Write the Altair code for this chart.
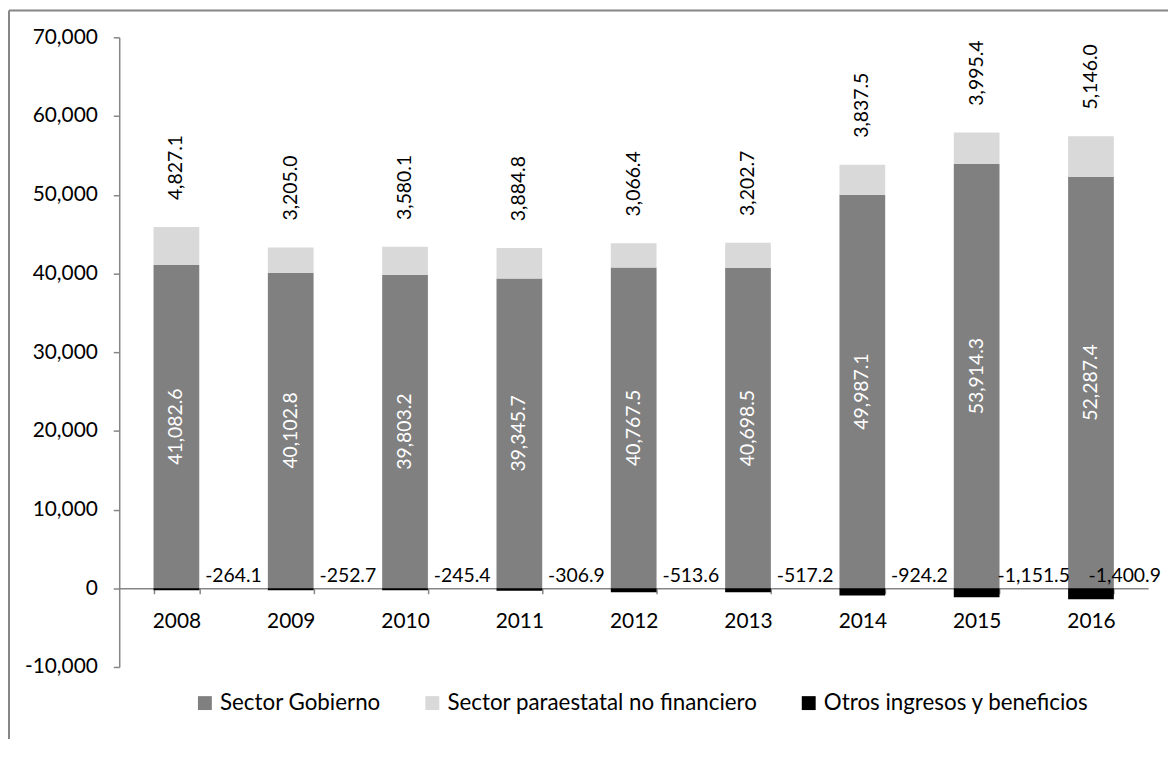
import altair as alt
import pandas as pd

years = ["2008", "2009", "2010", "2011", "2012", "2013", "2014", "2015", "2016"]
gobierno = [41082.6, 40102.8, 39803.2, 39345.7, 40767.5, 40698.5, 49987.1, 53914.3, 52287.4]
paraestatal = [4827.1, 3205.0, 3580.1, 3884.8, 3066.4, 3202.7, 3837.5, 3995.4, 5146.0]
otros = [-264.1, -252.7, -245.4, -306.9, -513.6, -517.2, -924.2, -1151.5, -1400.9]
series_names = ["Sector Gobierno", "Sector paraestatal no financiero", "Otros ingresos y beneficios"]
colors = ["#808080", "#d9d9d9", "#000000"]
y_ticks = [-10000, 0, 10000, 20000, 30000, 40000, 50000, 60000, 70000]

FONT = "Lato"
AXIS_COLOR = "#868686"

rows = []
for i, yr in enumerate(years):
    for k, vals in enumerate([gobierno, paraestatal, otros]):
        rows.append({"year": yr, "serie": series_names[k], "value": vals[i], "ord": k})
long_df = pd.DataFrame(rows)


def fmt(v):
    return f"{v:,.1f}"


wide = pd.DataFrame({
    "year": years,
    "gob": gobierno,
    "para": paraestatal,
    "otros": otros,
})
wide["total"] = wide["gob"] + wide["para"]
wide["mid"] = wide["gob"] / 2
wide["zero"] = 0.0
wide["gob_lbl"] = [fmt(v) for v in gobierno]
wide["para_lbl"] = [fmt(v) for v in paraestatal]
wide["otros_lbl"] = [fmt(v) for v in otros]

x_enc = alt.X(
    "year:N",
    sort=years,
    scale=alt.Scale(paddingInner=0.6, paddingOuter=0.3),
    axis=alt.Axis(
        title=None, labelAngle=0, labelFont=FONT, labelFontSize=21, labelColor="black",
        domainColor=AXIS_COLOR, domainWidth=1.5, tickColor=AXIS_COLOR, tickWidth=1.5,
        tickSize=5.5, tickBand="extent", labelPadding=17, offset=-79.25,
    ),
)

y_scale = alt.Scale(domain=[-10000, 70000], nice=False, zero=False)

bars = alt.Chart(long_df).mark_bar().encode(
    x=x_enc,
    y=alt.Y(
        "value:Q",
        stack="zero",
        scale=y_scale,
        axis=alt.Axis(
            title=None, values=y_ticks, grid=False,
            labelExpr="datum.value < 0 ? '-' + format(-datum.value, ',') : format(datum.value, ',')",
            labelFont=FONT, labelFontSize=21, labelColor="black",
            domainColor=AXIS_COLOR, domainWidth=1.5, tickColor=AXIS_COLOR, tickWidth=1.5,
            tickSize=6, labelPadding=16,
        ),
    ),
    color=alt.Color(
        "serie:N",
        scale=alt.Scale(domain=series_names, range=colors),
        legend=alt.Legend(
            orient="none", legendX=75, legendY=659, direction="horizontal", title=None,
            symbolType="square", symbolSize=196, symbolStrokeWidth=0,
            labelFont=FONT, labelFontSize=22.5, labelColor="black",
            columnPadding=40, labelOffset=4, padding=0, labelLimit=600,
        ),
    ),
    order=alt.Order("ord:Q"),
)

base = alt.Chart(wide)

gob_text = base.mark_text(
    angle=270, color="white", font=FONT, fontSize=19.5, align="center", baseline="middle"
).encode(x=alt.X("year:N", sort=years), y=alt.Y("mid:Q", scale=y_scale), text="gob_lbl:N")

para_text = base.mark_text(
    angle=270, color="black", font=FONT, fontSize=19.5, align="left", baseline="middle", dx=27
).encode(x=alt.X("year:N", sort=years), y=alt.Y("total:Q", scale=y_scale), text="para_lbl:N")

otros_text = base.transform_filter(alt.datum.year != "2016").mark_text(
    color="black", font=FONT, fontSize=19.5, align="center", baseline="alphabetic", dx=57.5, dy=-6
).encode(x=alt.X("year:N", sort=years), y=alt.Y("zero:Q", scale=y_scale), text="otros_lbl:N")

otros_last = base.transform_filter(alt.datum.year == "2016").mark_text(
    color="black", font=FONT, fontSize=19.5, align="center", baseline="alphabetic", dx=34, dy=-6
).encode(x=alt.X("year:N", sort=years), y=alt.Y("zero:Q", scale=y_scale), text="otros_lbl:N")

frame_data = alt.Data(values=[{"k": 1}])
frame_left = alt.Chart(frame_data).mark_rule(color=AXIS_COLOR, strokeWidth=2).encode(
    x=alt.value(-111), y=alt.value(-27), y2=alt.value(760)
)
frame_top = alt.Chart(frame_data).mark_rule(color=AXIS_COLOR, strokeWidth=2).encode(
    x=alt.value(-111), x2=alt.value(1100), y=alt.value(-27)
)

chart = alt.layer(
    frame_left, frame_top, bars, gob_text, para_text, otros_text, otros_last
).properties(
    width=1036,
    height=634,
    autosize=alt.AutoSizeParams(type="none"),
    padding={"left": 112, "top": 27, "right": 20, "bottom": 70},
).configure_view(stroke=None)

chart.save("out.html", embed_options={"renderer": "svg", "actions": False})
